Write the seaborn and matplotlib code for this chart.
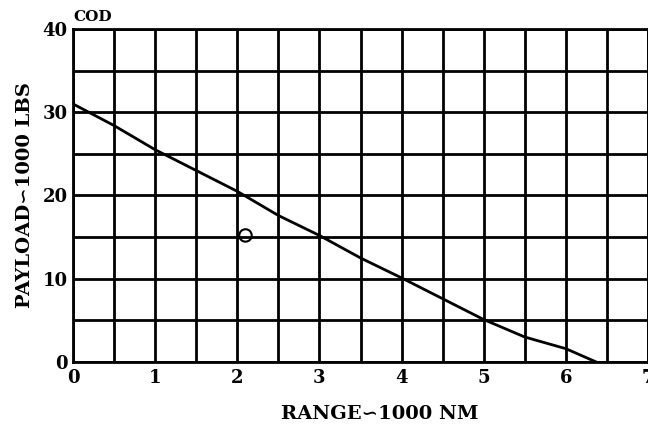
import matplotlib
matplotlib.use("Agg")
import matplotlib.pyplot as plt
import seaborn as sns
import pandas as pd
from matplotlib.ticker import MultipleLocator

# Payload-range curve for the COD aircraft (thousands of NM / thousands of lbs)
range_k = [0.0, 0.5, 1.0, 1.5, 2.0, 2.5, 3.0, 3.5, 4.0, 4.5, 5.0, 5.5, 6.0, 6.37]
payload_k = [31.0, 28.4, 25.5, 23.0, 20.5, 17.6, 15.2, 12.5, 10.1, 7.6, 5.1, 3.0, 1.6, 0.0]

# Single design point
point_range = [2.1]
point_payload = [15.2]

x_ticks = [0, 1, 2, 3, 4, 5, 6, 7]
y_ticks = [0, 10, 20, 30, 40]

sns.set_theme(style="white")
plt.rcParams["font.family"] = ["DejaVu Serif", "DejaVu Sans"]
plt.rcParams["text.color"] = "black"
plt.rcParams["axes.labelcolor"] = "black"
plt.rcParams["xtick.color"] = "black"
plt.rcParams["ytick.color"] = "black"

curve = pd.DataFrame({"range": range_k, "payload": payload_k})
point = pd.DataFrame({"range": point_range, "payload": point_payload})

fig = plt.figure(figsize=(6.48, 4.28), dpi=100)
ax = fig.add_axes([73 / 648, 66 / 428, 575 / 648, 333 / 428])

sns.lineplot(data=curve, x="range", y="payload", estimator=None, sort=False,
             color="black", linewidth=2.0, ax=ax)
sns.scatterplot(data=point, x="range", y="payload", marker="o", s=80,
                facecolors="none", edgecolor="black", linewidth=1.5, ax=ax,
                zorder=5)

ax.set_xlim(0, 7)
ax.set_ylim(0, 40)
ax.set_xticks(x_ticks)
ax.set_yticks(y_ticks)
ax.xaxis.set_minor_locator(MultipleLocator(0.5))
ax.yaxis.set_minor_locator(MultipleLocator(5))
ax.grid(which="both", color="black", linewidth=2.0)
ax.set_axisbelow(True)
ax.tick_params(which="both", length=0)
ax.tick_params(axis="x", pad=5, labelsize=13, labelcolor="black")
ax.tick_params(axis="y", pad=4, labelsize=13, labelcolor="black")
for lab in ax.get_xticklabels() + ax.get_yticklabels():
    lab.set_fontweight("bold")

for spine in ax.spines.values():
    spine.set_color("black")
    spine.set_linewidth(2.0)

ax.set_xlabel("RANGE\u223d1000 NM", fontsize=14, fontweight="bold",
              labelpad=10, color="black")
ax.set_ylabel("PAYLOAD\u223d1000 LBS", fontsize=14, fontweight="bold",
              labelpad=6, color="black")
ax.xaxis.set_label_coords(0.534, -0.13)

ax.text(0.0, 1.015, "COD", transform=ax.transAxes, ha="left", va="bottom",
        fontsize=11, fontweight="bold", color="black")

fig.savefig("out.png", dpi=100)
